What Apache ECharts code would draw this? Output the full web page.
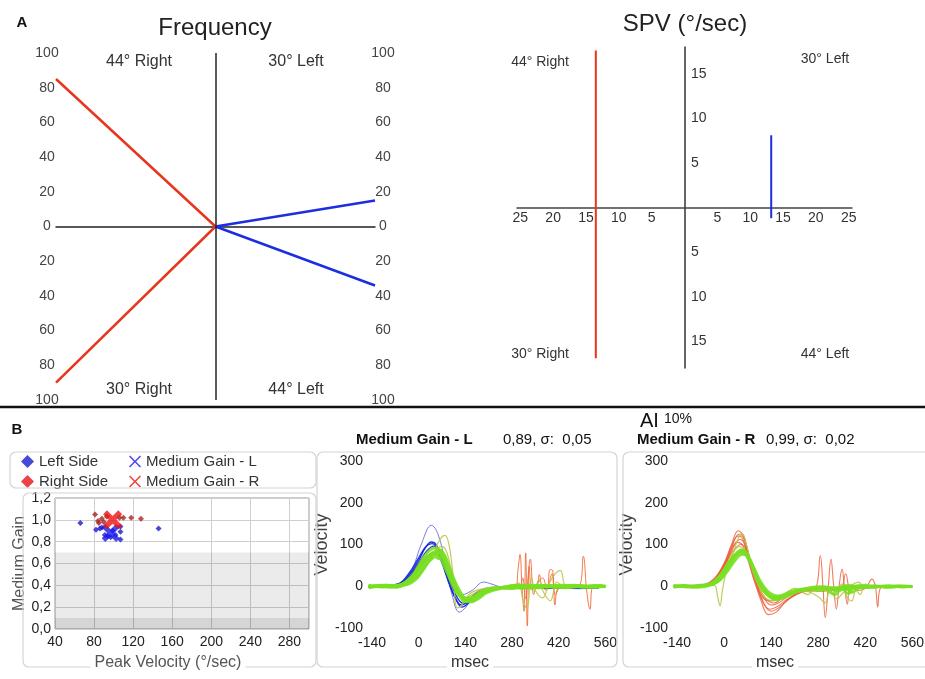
<!DOCTYPE html>
<html lang="en">
  <head>
    <meta charset="UTF-8">
    <title>Frequency, SPV and Medium Gain</title>
    <script src="https://cdn.jsdelivr.net/npm/echarts@6.0.0/dist/echarts.min.js"></script>
  </head>
  <body style="margin:0;background:#fff">
    <div id="main" style="width: 925px;height:679px;"></div>
    <script type="text/javascript">
      // ---- Panel A: frequency (%) — [upper quadrant, lower quadrant]
      const freqRight = [85, 90];   // 44° Right (up), 30° Right (down)
      const freqLeft = [15, 34];    // 30° Left (up), 44° Left (down)

      // ---- Panel A: SPV (°/sec) — vertical bars [x, yTop, yBottom]
      const spvRight = [-13.5, 17.6, -16.9];
      const spvLeft = [13.2, 8.1, -1.2];
      const spvXTicks = [-25, -20, -15, -10, -5, 5, 10, 15, 20, 25];
      const spvYTicks = [-15, -10, -5, 5, 10, 15];

      // ---- Panel B: gain vs peak velocity
      const leftSide = [[66, 0.97], [82, 0.91], [86, 0.92], [88, 0.93], [91, 0.86], [94, 0.85], [97, 0.84],
                        [99, 0.90], [102, 0.86], [107, 0.94], [107, 0.89], [107, 0.82], [146, 0.92]];
      const rightSide = [[81, 1.05], [84, 0.99], [85, 0.97], [88, 1.01], [90, 0.98], [93, 1.03],
                         [106, 1.02], [110, 1.02], [118, 1.02], [128, 1.01]];
      const gainL = [[97, 0.88]];
      const gainR = [[99, 1.00]];
      const waveTicks = [-140, 0, 140, 280, 420, 560];

      // ---- Panel B: head impulse traces, [msec, velocity]
      const leftGreen = [
        [[-150,-3],[-120,2],[-90,-2],[-60,3],[-40,10],[-20,25],[0,45],[20,65],[40,80],[55,84],[70,72],[90,35],[110,0],[130,-25],[150,-32],[170,-22],[200,-10],[240,-4],[280,-2],[320,2],[360,-3],[400,1],[440,-2],[480,2],[520,-1],[560,0]],
        [[-150,2],[-110,-2],[-70,2],[-40,6],[-20,18],[0,38],[20,58],[40,74],[60,80],[75,70],[95,30],[115,-8],[135,-30],[155,-35],[180,-20],[210,-8],[250,-3],[290,3],[330,-2],[370,2],[410,-3],[450,2],[490,-2],[530,2],[560,-1]],
        [[-150,0],[-100,3],[-60,0],[-30,12],[0,50],[25,80],[50,92],[65,85],[80,55],[100,15],[120,-18],[140,-38],[160,-30],[190,-14],[230,-6],[270,-1],[310,-5],[350,2],[390,-2],[430,3],[470,-2],[510,1],[560,-2]],
        [[-150,-4],[-110,0],[-70,-3],[-40,4],[-10,22],[15,45],[35,62],[50,70],[60,66],[72,74],[85,50],[105,8],[125,-20],[145,-28],[170,-25],[200,-12],[240,-5],[300,0],[340,-4],[380,0],[420,-3],[460,1],[500,-3],[540,0],[560,-2]],
        [[-150,1],[-110,-1],[-70,2],[-40,3],[-10,15],[15,40],[40,72],[62,88],[78,75],[95,40],[115,2],[135,-25],[155,-38],[175,-32],[205,-16],[245,-6],[290,-2],[330,3],[370,-1],[410,2],[450,-2],[490,1],[530,-2],[560,1]],
        [[-150,-1],[-120,1],[-80,-1],[-50,5],[-25,20],[0,42],[25,66],[45,78],[62,70],[82,38],[100,5],[120,-22],[140,-30],[165,-24],[195,-10],[235,-3],[280,-6],[320,0],[360,-4],[400,0],[440,-4],[480,0],[520,-3],[560,0]],
        [[-150,3],[-125,-1],[-95,3],[-65,-2],[-40,7],[-15,28],[10,55],[30,72],[48,76],[66,78],[80,62],[100,22],[118,-12],[138,-33],[160,-36],[185,-22],[215,-9],[260,-2],[300,3],[345,-1],[385,3],[425,-1],[465,3],[505,-1],[545,2],[560,0]]
      ];
      const leftBlue = [
        [[-150,-2],[-100,0],[-60,5],[-30,25],[0,62],[20,92],[38,106],[52,100],[70,62],[90,12],[110,-28],[128,-45],[148,-35],[175,-15],[215,-5],[280,-2],[350,-4],[420,-2],[480,-5],[540,-3]],
        [[-150,0],[-100,2],[-60,6],[-30,30],[0,68],[22,95],[40,102],[55,92],[72,52],[92,5],[112,-32],[130,-50],[150,-40],[178,-18],[220,-6],[290,-4],[360,-2],[430,-5],[500,-3],[545,-2]],
        [[-150,-2],[-100,-1],[-60,3],[-30,20],[0,55],[25,85],[45,96],[60,88],[78,50],[98,5],[118,-30],[138,-42],[158,-32],[185,-14],[230,-5],[300,-3],[380,-5],[460,-3],[540,-4]]
      ];
      const leftPaleBlue = [
        [[-150,0],[-80,2],[-50,8],[-20,40],[10,105],[38,146],[58,125],[80,55],[100,-20],[122,-62],[142,-50],[165,-20],[195,-6],[240,-2],[320,-3],[420,-4],[540,-3]],
        [[-150,0],[-80,0],[-40,10],[-10,40],[20,70],[45,80],[70,55],[100,0],[130,-20],[160,-10],[195,10],[220,5],[250,-2],[320,-4],[400,-3],[480,-6],[540,-4]]
      ];
      const leftOlive = [
        [[-150,0],[-90,2],[-50,3],[-20,10],[10,35],[40,70],[62,110],[79,122],[92,95],[104,20],[116,-52],[130,-45],[150,-20],[180,-8],[230,-2],[280,0],[300,8],[312,-30],[325,-55],[338,20],[350,-10],[372,-28],[390,5],[410,30],[425,38],[440,0],[460,-4],[500,2],[560,0]],
        [[-150,-2],[-80,0],[-40,5],[-10,20],[20,50],[45,75],[65,95],[80,90],[95,50],[115,-5],[135,-30],[160,-20],[200,-6],[260,-2],[320,0],[345,-10],[360,15],[375,-15],[395,-35],[415,10],[440,-5],[480,0],[560,0]]
      ];
      const leftOrange = [
        [[-150,0],[-60,3],[-20,22],[10,55],[40,80],[60,82],[80,55],[100,15],[120,-18],[145,-32],[175,-20],[215,-6],[260,-2],[290,-2],[298,40],[304,76],[310,0],[316,-60],[321,80],[326,-95],[332,48],[340,-5],[355,0],[362,28],[370,0],[385,-10],[394,40],[402,38],[409,-45],[418,-5],[440,-2],[480,0],[494,72],[504,-10],[514,-55],[524,0],[560,0]],
        [[-150,0],[-60,2],[-20,20],[10,52],[40,76],[62,80],[82,50],[102,10],[122,-20],[148,-30],[178,-18],[220,-5],[270,-2],[300,-5],[312,20],[320,-30],[335,65],[345,-20],[355,5],[372,20],[385,-5],[400,30],[410,-20],[430,0],[560,0]]
      ];

      const rightRed = [
        [[-150,0],[-100,2],[-60,3],[-30,12],[0,45],[20,85],[40,120],[52,118],[70,70],[90,15],[110,-35],[132,-68],[155,-62],[180,-40],[215,-20],[250,-10],[290,-5],[330,-3],[380,-2],[450,-1],[540,-2]],
        [[-150,-1],[-100,1],[-60,4],[-30,18],[0,55],[22,100],[42,133],[58,120],[75,70],[95,10],[115,-38],[135,-55],[160,-48],[190,-30],[230,-14],[270,-8],[286,73],[294,0],[301,-75],[310,0],[318,65],[326,0],[334,-55],[342,0],[351,41],[358,0],[367,-43],[375,0],[395,-10],[420,-5],[440,17],[450,0],[457,-50],[465,-5],[490,0],[540,-2]],
        [[-150,0],[-90,1],[-50,5],[-20,25],[10,70],[30,100],[48,112],[62,100],[80,55],[100,0],[120,-30],[140,-45],[165,-38],[195,-22],[235,-10],[275,-4],[320,-6],[345,-10],[362,30],[375,-8],[390,-3],[430,-2],[540,0]],
        [[-150,1],[-90,0],[-50,4],[-20,20],[10,62],[30,88],[50,100],[65,90],[85,45],[105,-5],[125,-30],[148,-40],[172,-30],[205,-18],[245,-8],[300,-4],[350,-2],[400,-4],[460,-2],[540,-1]],
        [[-150,-1],[-100,0],[-60,3],[-30,15],[0,50],[22,95],[45,125],[60,112],[78,62],[98,5],[118,-40],[140,-60],[165,-50],[195,-28],[235,-12],[280,-6],[330,-10],[370,-3],[420,-2],[540,-1]],
        [[-150,0],[-80,2],[-40,8],[-10,35],[20,80],[40,105],[55,98],[72,60],[92,8],[112,-25],[135,-35],[160,-30],[200,-20],[240,-10],[290,-12],[320,-8],[360,-4],[420,-2],[540,0]]
      ];
      const rightOlive = [
        [[-150,0],[-60,0],[-30,2],[-18,-30],[-12,-47],[-5,-10],[5,30],[25,75],[45,120],[55,125],[68,95],[85,40],[105,0],[125,-20],[150,-25],[180,-18],[210,-5],[250,-20],[262,-12],[290,-5],[330,-15],[350,5],[365,-25],[380,-35],[392,-10],[405,-20],[420,5],[450,0],[560,0]],
        [[-150,0],[-80,0],[-40,8],[-10,30],[20,70],[45,95],[60,90],[80,50],[100,5],[120,-25],[145,-35],[170,-30],[200,-20],[240,-12],[280,-25],[300,-40],[315,-10],[335,-30],[355,-15],[375,0],[400,10],[420,-5],[460,0],[560,0]]
      ];
      const rightGreen = [
        [[-150,-2],[-120,2],[-90,-1],[-60,2],[-40,6],[-20,18],[0,40],[20,65],[40,82],[52,88],[65,80],[85,45],[105,8],[125,-15],[150,-30],[175,-28],[205,-15],[245,-8],[290,-4],[330,-6],[370,-2],[410,2],[450,-2],[490,1],[530,-2],[560,0]],
        [[-150,1],[-110,-2],[-70,1],[-40,5],[-15,22],[10,50],[30,70],[50,82],[62,80],[80,55],[100,18],[120,-10],[145,-25],[170,-22],[200,-12],[240,-6],[280,-10],[320,-4],[360,-8],[400,-2],[440,1],[480,-2],[520,1],[560,-1]],
        [[-150,-1],[-110,1],[-70,-2],[-40,3],[-15,15],[10,42],[35,72],[55,86],[70,76],[90,40],[110,0],[130,-22],[155,-32],[180,-26],[215,-14],[255,-6],[300,-2],[340,-12],[360,0],[380,-15],[400,-5],[440,-2],[480,1],[560,0]],
        [[-150,2],[-110,0],[-70,3],[-40,6],[-10,28],[15,58],[40,78],[55,80],[72,65],[92,28],[112,-5],[135,-24],[158,-28],[185,-20],[220,-10],[260,-4],[300,-8],[330,-20],[350,-5],[370,-18],[390,0],[430,-3],[480,0],[560,-1]],
        [[-150,-3],[-120,1],[-90,-3],[-60,1],[-35,4],[-12,14],[12,38],[35,64],[55,76],[70,72],[88,46],[108,12],[130,-12],[152,-22],[178,-24],[210,-14],[250,-4],[290,-1],[330,-4],[370,2],[410,-3],[450,1],[490,-3],[530,0],[560,-2]]
      ];

      const FONT = '"Liberation Sans", Arial, sans-serif';
      const X_BOLD = 'path://M2,0L5,3L8,0L10,2L7,5L10,8L8,10L5,7L2,10L0,8L3,5L0,2Z';
      const X_THIN = 'path://M0,0.9L0.9,0L5,4.1L9.1,0L10,0.9L5.9,5L10,9.1L9.1,10L5,5.9L0.9,10L0,9.1L4.1,5Z';

      let myChart = echarts.init(document.getElementById('main'));

      const abs = v => String(Math.abs(v));
      const txt = (x, y, text, size, extra) => ({
        type: 'text', x: x, y: y, z: 10,
        style: Object.assign({ text: text, font: size + 'px ' + FONT, fill: '#333',
                               align: 'center', verticalAlign: 'middle' }, extra || {})
      });
      const frame = (x, y, w, h) => ({
        type: 'rect', z: 5, shape: { x: x, y: y, width: w, height: h, r: 6 },
        style: { fill: 'none', stroke: '#d4d4d4', lineWidth: 1.2 }
      });

      // one line series per trace
      function traces(list, color, width, opacity, xi) {
        return list.map(d => ({
          type: 'line', xAxisIndex: xi, yAxisIndex: xi + 1, data: d,
          showSymbol: false, smooth: 0.4, silent: true,
          lineStyle: { color: color, width: width, opacity: opacity }
        }));
      }

      const waveX = (gi) => ({
        gridIndex: gi, type: 'value', min: -155, max: 565,
        axisLine: { show: false }, axisTick: { show: false }, splitLine: { show: false },
        axisLabel: { customValues: waveTicks, fontSize: 14, color: '#222', margin: 8, fontFamily: FONT }
      });
      const waveY = (gi, gap) => ({
        gridIndex: gi, type: 'value', min: -100, max: 300, interval: 100,
        name: 'Velocity', nameLocation: 'middle', nameGap: gap,
        nameTextStyle: { fontSize: 18, color: '#444', fontFamily: FONT },
        axisLine: { show: false }, axisTick: { show: false }, splitLine: { show: false },
        axisLabel: { fontSize: 14, color: '#222', margin: 4, fontFamily: FONT }
      });

      let options = {
        animation: false,
        backgroundColor: '#fff',
        textStyle: { fontFamily: FONT },
        grid: [
          { left: 56, top: 53, width: 319, height: 347, outerBoundsMode: 'none' },
          { left: 517, top: 47, width: 335, height: 321, outerBoundsMode: 'none' },
          { left: 55, top: 498, width: 254, height: 131, show: true, borderColor: '#999', borderWidth: 1,
            backgroundColor: '#fff', outerBoundsMode: 'none' },
          { left: 367, top: 461, width: 240, height: 167, outerBoundsMode: 'none' },
          { left: 672, top: 461, width: 242, height: 167, outerBoundsMode: 'none' }
        ],
        xAxis: [
          { gridIndex: 0, type: 'value', min: -1, max: 1,
            axisLine: { onZero: true, lineStyle: { color: '#222', width: 1.5 } },
            axisTick: { show: false }, axisLabel: { show: false }, splitLine: { show: false } },
          // SPV: axis moved up to the centre of the grid
          { gridIndex: 1, type: 'value', min: -25.5, max: 25.5, position: 'bottom', offset: -160.5,
            axisLine: { onZero: false, lineStyle: { color: '#444', width: 1.5 } },
            axisTick: { show: false }, splitLine: { show: false },
            axisLabel: { customValues: spvXTicks, formatter: abs, fontSize: 14, color: '#333', margin: 4 } },
          { gridIndex: 2, type: 'value', min: 40, max: 300, interval: 40,
            axisLine: { show: false }, axisTick: { show: false },
            splitLine: { lineStyle: { color: '#cfcfcf' } },
            axisLabel: { showMaxLabel: false, fontSize: 14, color: '#222', margin: 6 } },
          waveX(3),
          waveX(4)
        ],
        yAxis: [
          { gridIndex: 0, type: 'value', min: -100, max: 100, interval: 20, position: 'left',
            axisLine: { show: false }, axisTick: { show: false }, splitLine: { show: false },
            axisLabel: { formatter: abs, align: 'center', margin: 9, fontSize: 14, color: '#444' } },
          { gridIndex: 0, type: 'value', min: -100, max: 100, interval: 20, position: 'right',
            axisLine: { show: false }, axisTick: { show: false }, splitLine: { show: false },
            axisLabel: { formatter: abs, align: 'center', margin: 8, fontSize: 14, color: '#444' } },
          // SPV: axis moved right to the centre of the grid
          { gridIndex: 1, type: 'value', min: -18, max: 18, position: 'left', offset: -168,
            axisLine: { onZero: false, lineStyle: { color: '#333', width: 1.5 } },
            axisTick: { show: false }, splitLine: { show: false },
            axisLabel: { inside: true, customValues: spvYTicks, formatter: abs, fontSize: 14, color: '#333', margin: 6 } },
          { gridIndex: 2, type: 'value', min: 0, max: 1.2, interval: 0.2,
            name: 'Medium Gain', nameLocation: 'middle', nameGap: 27,
            nameTextStyle: { fontSize: 16, color: '#555' },
            axisLine: { show: false }, axisTick: { show: false },
            splitLine: { lineStyle: { color: '#cfcfcf' } },
            axisLabel: { formatter: v => v.toFixed(1).replace('.', ','), fontSize: 14, color: '#222', margin: 4 } },
          waveY(3, 32),
          waveY(4, 30)
        ],
        legend: [
          { left: 16, top: 449, orient: 'vertical', itemWidth: 13, itemHeight: 13, itemGap: 5,
            textStyle: { fontSize: 15, color: '#333' },
            data: [{ name: 'Left Side', icon: 'diamond' },
                   { name: 'Right Side', icon: 'diamond', itemStyle: { color: '#e8141a' } }] },
          { left: 124, top: 449, orient: 'vertical', itemWidth: 12, itemHeight: 13, itemGap: 5,
            textStyle: { fontSize: 15, color: '#333' },
            data: [{ name: 'Medium Gain - L', icon: X_THIN }, { name: 'Medium Gain - R', icon: X_THIN }] }
        ],
        series: [
          // Frequency
          { type: 'line', xAxisIndex: 0, yAxisIndex: 0, showSymbol: false, silent: true,
            data: [[-1, freqRight[0]], [0, 0], [-1, -freqRight[1]]],
            lineStyle: { color: '#e8361e', width: 2.5 },
            markLine: { silent: true, symbol: 'none', label: { show: false },
                        lineStyle: { color: '#222', width: 1.5, type: 'solid' }, data: [{ xAxis: 0 }] } },
          { type: 'line', xAxisIndex: 0, yAxisIndex: 0, showSymbol: false, silent: true,
            data: [[1, freqLeft[0]], [0, 0], [1, -freqLeft[1]]],
            lineStyle: { color: '#1c2ee0', width: 2.5 } },
          // SPV
          { type: 'line', xAxisIndex: 1, yAxisIndex: 2, showSymbol: false, silent: true,
            data: [[spvRight[0], spvRight[1]], [spvRight[0], spvRight[2]]],
            lineStyle: { color: '#e8361e', width: 2 } },
          { type: 'line', xAxisIndex: 1, yAxisIndex: 2, showSymbol: false, silent: true,
            data: [[spvLeft[0], spvLeft[1]], [spvLeft[0], spvLeft[2]]],
            lineStyle: { color: '#1c2ee0', width: 2 } },
          // Gain scatter
          { name: 'Left Side', type: 'scatter', xAxisIndex: 2, yAxisIndex: 3, data: leftSide,
            symbol: 'diamond', symbolSize: 6, itemStyle: { color: '#1a1ad0' },
            markArea: { silent: true, data: [
              [{ yAxis: 0, itemStyle: { color: 'rgba(0,0,0,0.08)' } }, { yAxis: 0.7 }],
              [{ yAxis: 0, itemStyle: { color: 'rgba(0,0,0,0.09)' } }, { yAxis: 0.1 }]
            ] } },
          { name: 'Right Side', type: 'scatter', xAxisIndex: 2, yAxisIndex: 3, data: rightSide,
            symbol: 'diamond', symbolSize: 6, itemStyle: { color: '#a82424' } },
          { name: 'Medium Gain - L', type: 'scatter', xAxisIndex: 2, yAxisIndex: 3, data: gainL,
            symbol: X_BOLD, symbolSize: 18, itemStyle: { color: '#1a1aee' }, z: 5 },
          { name: 'Medium Gain - R', type: 'scatter', xAxisIndex: 2, yAxisIndex: 3, data: gainR,
            symbol: X_BOLD, symbolSize: 19, itemStyle: { color: '#ee1111' }, z: 5 }
        ]
          .concat(traces(leftOrange, '#f06a3a', 1, 0.9, 3))
          .concat(traces(leftPaleBlue, '#6c6ce0', 1, 0.9, 3))
          .concat(traces(leftBlue, '#1a28d8', 1.4, 0.95, 3))
          .concat(traces(leftOlive, '#bcc548', 1.2, 0.9, 3))
          .concat(traces(leftGreen, '#78e020', 2.6, 0.9, 3))
          .concat(traces(rightRed, '#ec5a36', 1.1, 0.8, 4))
          .concat(traces(rightOlive, '#b8c848', 1.2, 0.9, 4))
          .concat(traces(rightGreen, '#78e020', 2.6, 0.9, 4)),
        graphic: [
          txt(22, 23, 'A', 15, { font: 'bold 15px ' + FONT, fill: '#111' }),
          txt(215, 28, 'Frequency', 24, { fill: '#222' }),
          txt(685, 24, 'SPV (°/sec)', 24, { fill: '#222' }),
          txt(139, 62, '44° Right', 16),
          txt(296, 62, '30° Left', 16),
          txt(139, 390, '30° Right', 16),
          txt(296, 390, '44° Left', 16),
          txt(540, 62, '44° Right', 14),
          txt(825, 59, '30° Left', 14),
          txt(540, 354, '30° Right', 14),
          txt(825, 354, '44° Left', 14),
          { type: 'line', z: 10, shape: { x1: 0, y1: 407, x2: 925, y2: 407 },
            style: { stroke: '#111', lineWidth: 2.5 } },
          txt(17, 430, 'B', 15, { font: 'bold 15px ' + FONT, fill: '#111' }),
          txt(640, 421, 'AI', 20, { align: 'left', fill: '#111' }),
          txt(664, 419, '10%', 14, { align: 'left', fill: '#111' }),
          txt(356, 440, 'Medium Gain - L', 15, { align: 'left', font: 'bold 15px ' + FONT, fill: '#111' }),
          txt(503, 440, '0,89, σ:  0,05', 15, { align: 'left', fill: '#111' }),
          txt(637, 440, 'Medium Gain - R', 15, { align: 'left', font: 'bold 15px ' + FONT, fill: '#111' }),
          txt(766, 440, '0,99, σ:  0,02', 15, { align: 'left', fill: '#111' }),
          frame(10, 452, 306, 36),
          frame(23, 493, 293, 174),
          frame(317, 452, 300, 215),
          frame(623, 452, 312, 215),
          txt(168, 663, 'Peak Velocity (°/sec)', 16, { fill: '#555', backgroundColor: '#fff', padding: [0, 4] }),
          txt(470, 663, 'msec', 16, { fill: '#333', backgroundColor: '#fff', padding: [0, 4] }),
          txt(775, 663, 'msec', 16, { fill: '#333', backgroundColor: '#fff', padding: [0, 4] })
        ]
      };

      myChart.setOption(options);
    </script>
  </body>
</html>
